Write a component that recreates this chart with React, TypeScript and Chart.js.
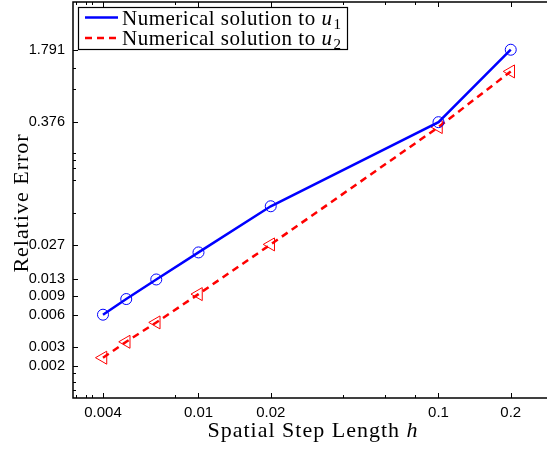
import { useEffect, useRef } from "react";
import { Chart, registerables } from "chart.js";

Chart.register(...registerables);

// ---- data ----
const stepLengths = [0.004, 0.005, 0.00667, 0.01, 0.02, 0.1, 0.2];
const errorU1 = [0.006, 0.0084, 0.0128, 0.0229, 0.0618, 0.377, 1.791];
const errorU2 = [0.00238, 0.00335, 0.00508, 0.00934, 0.0272, 0.3395, 1.123];

const xTickValues = [0.004, 0.01, 0.02, 0.1, 0.2];
const xTickLabels = ["0.004", "0.01", "0.02", "0.1", "0.2"];
const yTickValues = [0.002, 0.003, 0.006, 0.009, 0.013, 0.027, 0.376, 1.791];
const yTickLabels = ["0.002", "0.003", "0.006", "0.009", "0.013", "0.027", "0.376", "1.791"];
const xMinorTicks = [0.0031, 0.0034, 0.0036, 0.008, 0.04, 0.06, 0.08];
const yMinorTicks = [0.00119, 0.00142, 0.00172, 0.054, 0.108, 0.141, 0.167, 0.193, 0.77, 1.2];

const legendTexts = ["Numerical solution to ", "Numerical solution to "];
const legendVars = ["u", "u"];
const legendSubs = ["1", "2"];
const xTitleText = "Spatial Step Length ";
const xTitleVar = "h";
const yTitleText = "Relative Error";

const BLUE = "#0000ff";
const RED = "#ff0000";
const SERIF = "'Liberation Serif', 'Times New Roman', serif";
const SANS = "'Liberation Sans', Arial, sans-serif";

const decorPlugin = {
  id: "decor",
  afterDraw(chart: any) {
    const { ctx, chartArea } = chart;
    const { left, right, top, bottom } = chartArea;
    const xs = chart.scales.x;
    const ys = chart.scales.y;
    ctx.save();
    // frame
    ctx.strokeStyle = "#000";
    ctx.lineWidth = 1.5;
    ctx.strokeRect(left, top, right - left, bottom - top);
    // ticks
    ctx.lineWidth = 1;
    const tickX = (v: number, len: number) => {
      const p = Math.round(xs.getPixelForValue(v)) + 0.5;
      ctx.beginPath();
      ctx.moveTo(p, bottom);
      ctx.lineTo(p, bottom - len);
      ctx.moveTo(p, top);
      ctx.lineTo(p, top + len);
      ctx.stroke();
    };
    const tickY = (v: number, len: number) => {
      const p = Math.round(ys.getPixelForValue(v)) + 0.5;
      ctx.beginPath();
      ctx.moveTo(left, p);
      ctx.lineTo(left + len, p);
      ctx.moveTo(right, p);
      ctx.lineTo(right - len, p);
      ctx.stroke();
    };
    xTickValues.forEach((v) => tickX(v, 5));
    xMinorTicks.forEach((v) => tickX(v, 3));
    yTickValues.forEach((v) => tickY(v, 5));
    yMinorTicks.forEach((v) => tickY(v, 3));

    // legend
    const lx = left + 5;
    const ly = top + 5;
    const lw = 269;
    const lh = 42;
    ctx.fillStyle = "#fff";
    ctx.fillRect(lx, ly, lw, lh);
    ctx.strokeStyle = "#000";
    ctx.lineWidth = 1.2;
    ctx.strokeRect(lx + 0.5, ly + 0.5, lw, lh);
    const colors = [BLUE, RED];
    const dashes = [[], [7, 5]];
    for (let i = 0; i < 2; i++) {
      const cy = ly + 10.5 + i * 20.5;
      ctx.strokeStyle = colors[i];
      ctx.lineWidth = 2.5;
      ctx.setLineDash(dashes[i]);
      ctx.beginPath();
      ctx.moveTo(lx + 7, cy);
      ctx.lineTo(lx + 40, cy);
      ctx.stroke();
      ctx.setLineDash([]);
      ctx.fillStyle = "#000";
      ctx.textBaseline = "alphabetic";
      ctx.textAlign = "left";
      (ctx as any).letterSpacing = "0.5px";
      ctx.font = `21px ${SERIF}`;
      const base = cy + 7;
      let tx = lx + 44;
      ctx.fillText(legendTexts[i], tx, base);
      tx += ctx.measureText(legendTexts[i]).width;
      ctx.font = `italic 21px ${SERIF}`;
      ctx.fillText(legendVars[i], tx, base);
      tx += ctx.measureText(legendVars[i]).width;
      ctx.font = `15px ${SERIF}`;
      ctx.fillText(legendSubs[i], tx + 1, base + 4);
    }

    // x title
    ctx.fillStyle = "#000";
    (ctx as any).letterSpacing = "1px";
    ctx.font = `22px ${SERIF}`;
    const w1 = ctx.measureText(xTitleText).width;
    ctx.font = `italic 22px ${SERIF}`;
    const w2 = ctx.measureText(xTitleVar).width;
    const cx = (left + right) / 2;
    let sx = cx - (w1 + w2) / 2;
    ctx.font = `22px ${SERIF}`;
    ctx.fillText(xTitleText, sx, 437);
    ctx.font = `italic 22px ${SERIF}`;
    ctx.fillText(xTitleVar, sx + w1, 437);

    // y title
    ctx.save();
    ctx.translate(27.5, (top + bottom) / 2 + 3);
    ctx.rotate(-Math.PI / 2);
    ctx.font = `22px ${SERIF}`;
    ctx.textAlign = "center";
    ctx.fillText(yTitleText, 0, 0);
    ctx.restore();

    (ctx as any).letterSpacing = "0px";
    ctx.restore();
  },
};

export default function App() {
  const ref = useRef<HTMLCanvasElement | null>(null);
  useEffect(() => {
    if (!ref.current) return;
    const chart = new Chart(ref.current, {
      type: "scatter",
      data: {
        datasets: [
          {
            label: "u1",
            data: stepLengths.map((x, i) => ({ x, y: errorU1[i] })),
            showLine: true,
            borderColor: BLUE,
            borderWidth: 2.5,
            pointStyle: "circle",
            pointRadius: 5.5,
            pointBorderColor: BLUE,
            pointBackgroundColor: "rgba(0,0,0,0)",
            pointBorderWidth: 1,
          },
          {
            label: "u2",
            data: stepLengths.map((x, i) => ({ x, y: errorU2[i] })),
            showLine: true,
            borderColor: RED,
            borderWidth: 2.5,
            borderDash: [7, 5],
            pointStyle: "triangle",
            pointRotation: -90,
            pointRadius: 7.5,
            pointBorderColor: RED,
            pointBackgroundColor: "rgba(0,0,0,0)",
            pointBorderWidth: 1,
          },
        ],
      },
      options: {
        responsive: false,
        animation: false,
        devicePixelRatio: 1,
        layout: { autoPadding: false, padding: { top: 2, right: 7, left: 0, bottom: 0 } },
        plugins: { legend: { display: false }, tooltip: { enabled: false } },
        scales: {
          x: {
            type: "logarithmic",
            min: 0.003,
            max: 0.3,
            position: "bottom",
            afterBuildTicks: (s: any) => {
              s.ticks = xTickValues.map((v) => ({ value: v }));
            },
            afterFit: (s: any) => {
              s.height = 51;
              s.paddingLeft = 0;
              s.paddingRight = 0;
            },
            grid: { display: false, drawTicks: false, tickLength: 0 },
            border: { display: false },
            ticks: {
              autoSkip: false,
              maxRotation: 0,
              padding: 6,
              color: "#000",
              font: { family: SANS, size: 15 },
              callback: (_v: any, i: number) => xTickLabels[i],
            },
          },
          y: {
            type: "logarithmic",
            min: 0.001,
            max: 5,
            afterBuildTicks: (s: any) => {
              s.ticks = yTickValues.map((v) => ({ value: v }));
            },
            afterFit: (s: any) => {
              s.width = 73;
              s.paddingTop = 0;
              s.paddingBottom = 0;
            },
            grid: { display: false, drawTicks: false, tickLength: 0 },
            border: { display: false },
            ticks: {
              autoSkip: false,
              padding: 8,
              color: "#000",
              font: { family: SANS, size: 14.5 },
              callback: (_v: any, i: number) => yTickLabels[i],
            },
          },
        },
      },
      plugins: [decorPlugin],
    });
    return () => chart.destroy();
  }, []);

  return (
    <div
      style={{
        position: "absolute",
        left: 0,
        top: 0,
        width: 547,
        height: 449,
        overflow: "hidden",
        background: "#fff",
      }}
    >
      <canvas ref={ref} width={560} height={449} style={{ display: "block" }} />
    </div>
  );
}
